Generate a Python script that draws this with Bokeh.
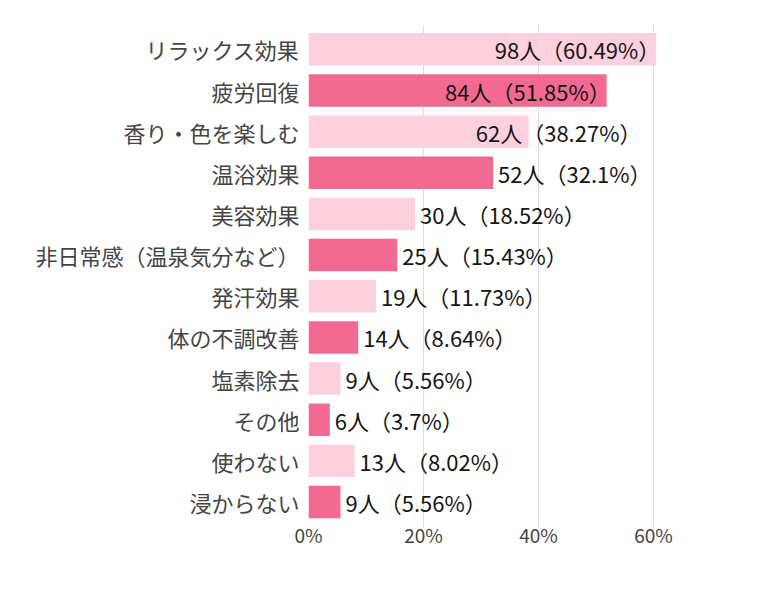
from bokeh.plotting import figure
from bokeh.models import Range1d, FixedTicker, ColumnDataSource
from bokeh.embed import file_html
from bokeh.resources import INLINE
from bokeh.core.properties import value

categories = ["リラックス効果", "疲労回復", "香り・色を楽しむ", "温浴効果", "美容効果",
              "非日常感（温泉気分など）", "発汗効果", "体の不調改善", "塩素除去", "その他",
              "使わない", "浸からない"]
counts = [98, 84, 62, 52, 30, 25, 19, 14, 9, 6, 13, 9]
percents = [60.49, 51.85, 38.27, 32.1, 18.52, 15.43, 11.73, 8.64, 5.56, 3.7, 8.02, 5.56]
x_ticks = [0, 20, 40, 60]
x_tick_labels = ["0%", "20%", "40%", "60%"]

LIGHT = "#fdd0dd"
DARK = "#f26a91"
FONT = "Noto Sans CJK JP"
LABEL_EDGE = 57.2      # right limit (axis units) for labels that would overflow
INSIDE_MIN = 45        # bars at least this long carry their label inside
CLAMP_MIN = 35         # labels of bars this long are clamped to LABEL_EDGE

n = len(categories)
ys = list(range(n))
colors = [LIGHT if i % 2 == 0 else DARK for i in ys]
labels = [f"{c}人（{p}%）" for c, p in zip(counts, percents)]

src = ColumnDataSource(dict(y=ys, pct=percents, color=colors, label=labels))

right_x, right_y, right_t = [], [], []
left_x, left_y, left_t = [], [], []
for i in ys:
    v = percents[i]
    if v >= INSIDE_MIN:
        right_x.append(v); right_y.append(i); right_t.append(labels[i])
    elif v >= CLAMP_MIN:
        right_x.append(LABEL_EDGE); right_y.append(i); right_t.append(labels[i])
    else:
        left_x.append(v); left_y.append(i); left_t.append(labels[i])

src_r = ColumnDataSource(dict(x=right_x, y=right_y, label=right_t))
src_l = ColumnDataSource(dict(x=left_x, y=left_y, label=left_t))

p = figure(frame_width=432, frame_height=502,
           x_range=Range1d(0, 75.13), y_range=Range1d(n - 0.38, -0.58),
           output_backend="svg", toolbar_location=None,
           min_border_left=308, min_border_top=25, min_border_right=8, min_border_bottom=45)
p.outline_line_color = None
p.background_fill_color = "white"

p.hbar(y="y", left=0, right="pct", height=0.79, fill_color="color", line_color=None, source=src)

p.text(x="x", y="y", text="label", source=src_r, x_offset=4,
       text_align="right", text_baseline="middle", text_font=value(FONT),
       text_font_size="22px", text_color="#151515")
p.text(x="x", y="y", text="label", source=src_l, x_offset=5,
       text_align="left", text_baseline="middle", text_font=value(FONT),
       text_font_size="22px", text_color="#151515")

p.xgrid.ticker = FixedTicker(ticks=x_ticks)
p.xgrid.grid_line_color = "#dcdcdc"
p.ygrid.visible = False

xa = p.xaxis[0]
xa.ticker = FixedTicker(ticks=x_ticks)
xa.major_label_overrides = {t: l for t, l in zip(x_ticks, x_tick_labels)}
xa.axis_line_color = None
xa.major_tick_line_color = None
xa.minor_tick_line_color = None
xa.major_tick_out = 0
xa.major_tick_in = 0
xa.major_label_standoff = -7
xa.major_label_text_font = FONT
xa.major_label_text_font_size = "19px"
xa.major_label_text_color = "#444444"

ya = p.yaxis[0]
ya.ticker = FixedTicker(ticks=ys)
ya.major_label_overrides = {i: c for i, c in zip(ys, categories)}
ya.axis_line_color = None
ya.major_tick_line_color = None
ya.minor_tick_line_color = None
ya.major_tick_out = 0
ya.major_tick_in = 0
ya.major_label_standoff = 9
ya.major_label_text_font = FONT
ya.major_label_text_font_size = "22px"
ya.major_label_text_color = "#444444"

open("out.html", "w").write(file_html(p, INLINE))
